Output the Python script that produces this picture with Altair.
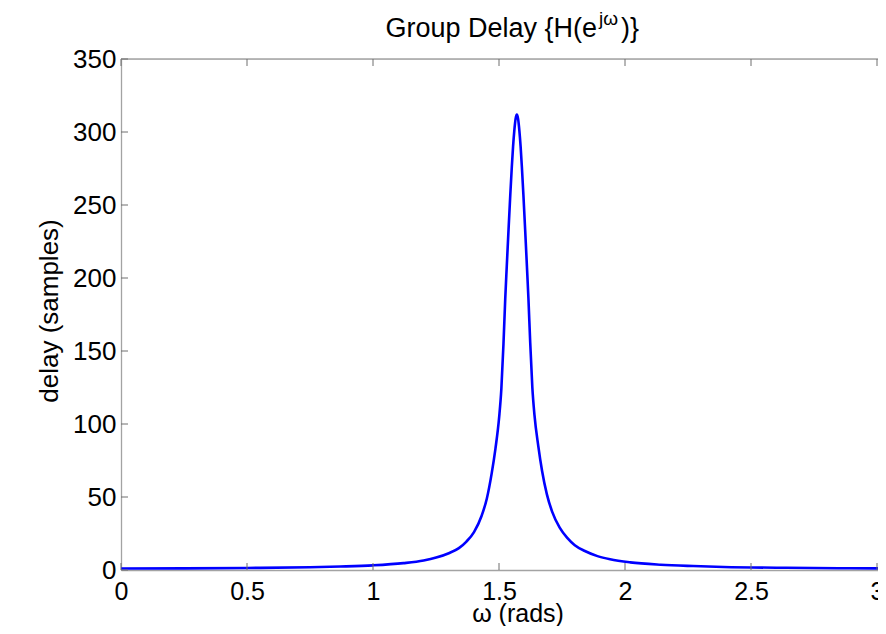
import altair as alt
import pandas as pd

# ---- data ----
omega = [0.0, 0.2508, 0.5008, 0.7508, 0.8708, 1.0, 1.1208, 1.2008, 1.2508, 1.3008,
         1.3408, 1.3708, 1.4008, 1.4308, 1.4518, 1.4708, 1.4858, 1.5008, 1.5093, 1.5178,
         1.5248, 1.5308, 1.5378, 1.5448, 1.5508, 1.5558, 1.5608, 1.5658, 1.5708,
         1.5758, 1.5808, 1.5858, 1.5908, 1.5968, 1.6038, 1.6108, 1.6168, 1.6238, 1.6323,
         1.6408, 1.6558, 1.6708, 1.6898, 1.7108, 1.7408, 1.7708, 1.8008, 1.8408, 1.8908,
         1.9408, 2.0208, 2.1416, 2.2708, 2.3908, 2.6408, 2.8908, 3.1416]
delay = [1.0, 1.1, 1.4, 1.9, 2.4, 3.2, 4.7, 6.5, 8.5, 11.5,
         15, 19.5, 26, 37, 49, 66, 83, 105, 124, 155,
         186, 208, 233, 257, 276, 290, 301, 309, 312,
         309, 301, 290, 276, 257, 233, 208, 186, 156, 125,
         106, 85, 68, 52, 40, 29, 22, 17, 13, 9.5,
         7.3, 5.2, 3.6, 2.7, 2.1, 1.5, 1.2, 1.0]

x_ticks = [0, 0.5, 1, 1.5, 2, 2.5, 3]
y_ticks = [0, 50, 100, 150, 200, 250, 300, 350]

title_main = "Group Delay {H(e"
title_sup = "jω"
title_end = ")}"
x_title = "ω (rads)"
y_title = "delay (samples)"

# ---- layout ----
W, H = 757, 511
XMAX = 757 / 252.0
FONT = "Liberation Sans"
AX = "#a3a3a3"
TK = "#6e6e6e"

xs = alt.Scale(domain=[0, XMAX], nice=False, zero=False)
ys = alt.Scale(domain=[0, 350], nice=False, zero=False)

x_axis = alt.Axis(
    values=x_ticks, format="~g", ticks=False, grid=False,
    domainColor=AX, domainWidth=1.3, labelPadding=9,
    labelFlush=False, labelOverlap=False,
    labelFont=FONT, labelFontSize=25, labelColor="black",
    title=x_title, titleFont=FONT, titleFontSize=25,
    titleFontWeight="normal", titleColor="black",
    titleX=396.5, titleY=51, titleBaseline="alphabetic", titleAlign="center")
y_axis = alt.Axis(
    values=y_ticks, format="d", ticks=False, grid=False,
    domainColor=AX, domainWidth=1.3, labelPadding=5,
    labelFlush=False, labelOverlap=False,
    labelFont=FONT, labelFontSize=26, labelColor="black",
    title=y_title, titleFont=FONT, titleFontSize=26,
    titleFontWeight="normal", titleColor="black",
    titleX=-72, titleY=H / 2 - 4, titleAngle=270,
    titleBaseline="middle", titleAlign="center")

df = pd.DataFrame({"w": omega, "gd": delay})
xt = pd.DataFrame({"w": x_ticks})
yt = pd.DataFrame({"gd": y_ticks})
one = pd.DataFrame({"a": [0]})

line = alt.Chart(df).mark_line(
    color="#0000ff", strokeWidth=2.6, clip=True, interpolate="monotone"
).encode(
    x=alt.X("w:Q", scale=xs, axis=x_axis),
    y=alt.Y("gd:Q", scale=ys, axis=y_axis),
)

bottom_ticks = alt.Chart(xt).mark_rule(color=TK, strokeWidth=1).encode(
    x=alt.X("w:Q", scale=xs, axis=x_axis), y=alt.value(H), y2=alt.value(H - 7))
top_ticks = alt.Chart(xt).mark_rule(color=TK, strokeWidth=1).encode(
    x=alt.X("w:Q", scale=xs, axis=x_axis), y=alt.value(0), y2=alt.value(7))
left_ticks = alt.Chart(yt).mark_rule(color=TK, strokeWidth=1).encode(
    y=alt.Y("gd:Q", scale=ys, axis=y_axis), x=alt.value(0), x2=alt.value(7))
top_border = alt.Chart(one).mark_rule(color=AX, strokeWidth=1.3).encode(
    x=alt.value(0), x2=alt.value(W), y=alt.value(0))

t1 = alt.Chart(one).mark_text(font=FONT, fontSize=27, align="right",
                              baseline="alphabetic", color="black").encode(
    x=alt.value(476), y=alt.value(-22), text=alt.value(title_main))
t2 = alt.Chart(one).mark_text(font=FONT, fontSize=19, align="left",
                              baseline="alphabetic", color="black").encode(
    x=alt.value(478), y=alt.value(-34), text=alt.value(title_sup))
t3 = alt.Chart(one).mark_text(font=FONT, fontSize=27, align="left",
                              baseline="alphabetic", color="black").encode(
    x=alt.value(500), y=alt.value(-22), text=alt.value(title_end))

chart = alt.layer(line, top_border, bottom_ticks, top_ticks, left_ticks, t1, t2, t3).properties(
    width=W, height=H,
    autosize=alt.AutoSizeParams(type="none"),
    padding={"left": 113, "top": 51, "right": 0, "bottom": 56},
).configure_view(stroke=None).configure(background="white")

chart.save("out.html", embed_options={"renderer": "svg", "actions": False})
